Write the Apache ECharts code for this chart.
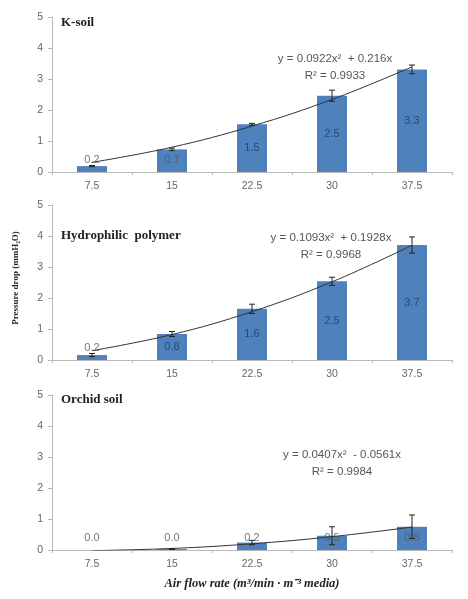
<!DOCTYPE html>
<html><head><meta charset="utf-8">
<script src="https://cdn.jsdelivr.net/npm/echarts@6/dist/echarts.min.js"></script>
<style>html,body{margin:0;padding:0;background:#fff}#c{width:468px;height:599px}</style>
</head><body><div id="c"></div>
<script>
const categories = ['7.5', '15', '22.5', '30', '37.5'];
const yTicks = [0, 1, 2, 3, 4, 5];

const panelTitles = ['K-soil', 'Hydrophilic  polymer', 'Orchid soil'];
const equations = ['y = 0.0922x\u00B2  + 0.216x', 'y = 0.1093x\u00B2  + 0.1928x', 'y = 0.0407x\u00B2  - 0.0561x'];
const rSquared = ['R\u00B2 = 0.9933', 'R\u00B2 = 0.9968', 'R\u00B2 = 0.9984'];

const kSoil = [0.19, 0.73, 1.54, 2.46, 3.31];
const kSoilErr = [0.02, 0.04, 0.03, 0.18, 0.14];
const kSoilTrend = [0.31, 0.80, 1.48, 2.34, 3.39];

const hydro = [0.16, 0.84, 1.65, 2.54, 3.71];
const hydroErr = [0.05, 0.08, 0.15, 0.13, 0.26];
const hydroTrend = [0.30, 0.82, 1.56, 2.52, 3.70];

const orchid = [0.0, 0.03, 0.24, 0.46, 0.75];
const orchidErr = [0.0, 0.01, 0.07, 0.29, 0.38];
const orchidTrend = [-0.02, 0.05, 0.20, 0.43, 0.74];

const panels = [
  {vals: kSoil, err: kSoilErr, trend: kSoilTrend, top: 17, titleY: 24, eqX: 335, eqY: 59},
  {vals: hydro, err: hydroErr, trend: hydroTrend, top: 205, titleY: 237, eqX: 331, eqY: 238},
  {vals: orchid, err: orchidErr, trend: orchidTrend, top: 395, titleY: 401, eqX: 342, eqY: 455}
];

const BLUE = '#4f81bd';
const grids = [], xAxes = [], yAxes = [], series = [], graphics = [];

panels.forEach((p, i) => {
  grids.push({left: 52, right: 16, top: p.top, height: 155});
  xAxes.push({
    type: 'category', gridIndex: i, data: categories,
    axisLine: {lineStyle: {color: '#b8b8b8'}},
    axisTick: {show: true, alignWithLabel: false, length: 3, lineStyle: {color: '#b8b8b8'}},
    axisLabel: {color: '#666', fontSize: 10.5, fontFamily: 'Liberation Sans', margin: 9}
  });
  yAxes.push({
    type: 'value', gridIndex: i, min: 0, max: 5, interval: 1,
    splitLine: {show: false},
    axisLine: {show: true, lineStyle: {color: '#b8b8b8'}},
    axisTick: {show: true, length: 4, lineStyle: {color: '#b8b8b8'}},
    axisLabel: {color: '#666', fontSize: 10.5, fontFamily: 'Liberation Sans', margin: 9}
  });
  series.push({
    type: 'bar', xAxisIndex: i, yAxisIndex: i, data: p.vals, barWidth: 30,
    itemStyle: {color: BLUE}, z: 2
  });
  // error bars
  series.push({
    type: 'custom', xAxisIndex: i, yAxisIndex: i, z: 4,
    data: p.vals.map((v, k) => [k, v - p.err[k], v + p.err[k]]),
    renderItem: function (params, api) {
      if (api.value(2) - api.value(1) <= 0) return null;
      const lo = api.coord([api.value(0), api.value(1)]);
      const hi = api.coord([api.value(0), api.value(2)]);
      const w = 3;
      const st = {stroke: '#222', lineWidth: 1};
      return {type: 'group', children: [
        {type: 'line', shape: {x1: hi[0], y1: hi[1], x2: lo[0], y2: lo[1]}, style: st},
        {type: 'line', shape: {x1: hi[0] - w, y1: hi[1], x2: hi[0] + w, y2: hi[1]}, style: st},
        {type: 'line', shape: {x1: lo[0] - w, y1: lo[1], x2: lo[0] + w, y2: lo[1]}, style: st}
      ]};
    }
  });
  // trend line
  series.push({
    type: 'line', xAxisIndex: i, yAxisIndex: i, data: p.trend, smooth: 0.4,
    symbol: 'none', clip: true, lineStyle: {color: '#333', width: 1}, z: 3
  });
  // value labels
  series.push({
    type: 'scatter', xAxisIndex: i, yAxisIndex: i, symbolSize: 0, z: 5,
    data: p.vals.map((v, k) => ({value: [k, Math.max(v / 2, 0.4)], lbl: v.toFixed(1), inside: v / 2 >= 0.4})),
    label: {
      show: true, position: 'inside', fontSize: 11, fontFamily: 'Liberation Sans',
      formatter: function (d) { return d.data.lbl; },
      color: '#1f3a64'
    },
    silent: true
  });
  series[series.length - 1].data.forEach(d => { d.label = {color: d.inside ? '#1f3a64' : '#555'}; });

  graphics.push({type: 'text', left: 61, top: p.titleY - 8,
    style: {text: panelTitles[i], font: 'bold 13px "Liberation Serif"', fill: '#222'}});
  graphics.push({type: 'text', x: p.eqX, y: p.eqY,
    style: {text: equations[i], font: '11.5px "Liberation Sans"', fill: '#555', align: 'center', verticalAlign: 'middle'}});
  graphics.push({type: 'text', x: p.eqX, y: p.eqY + 17,
    style: {text: rSquared[i], font: '11.5px "Liberation Sans"', fill: '#555', align: 'center', verticalAlign: 'middle'}});
});

graphics.push({type: 'text', x: 16, y: 278, rotation: Math.PI / 2,
  style: {text: 'Pressure drop (mmH\u2082O)', font: 'bold 9px "Liberation Serif"', fill: '#222', align: 'center', verticalAlign: 'middle'}});
graphics.push({type: 'text', x: 252, y: 584,
  style: {text: 'Air flow rate (m\u00B3/min \u00B7 m\u207B\u00B3 media)', font: 'italic bold 12.5px "Liberation Serif"', fill: '#222', align: 'center', verticalAlign: 'middle'}});

const chart = echarts.init(document.getElementById('c'), null, {renderer: 'canvas'});
chart.setOption({
  animation: false,
  grid: grids, xAxis: xAxes, yAxis: yAxes, series: series, graphic: graphics
});
</script></body></html>
